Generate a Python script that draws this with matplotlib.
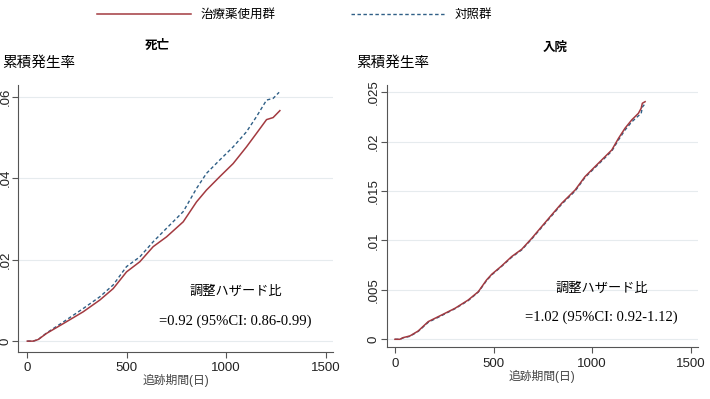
import numpy as np
import matplotlib
matplotlib.use('Agg')
import matplotlib.pyplot as plt
from matplotlib.lines import Line2D

plt.rcParams['font.family'] = ['Liberation Sans', 'Noto Sans CJK JP']

# Legend / text
LABEL_TRT = '治療薬使用群'
LABEL_CTL = '対照群'
TITLES = ['死亡', '入院']
YTITLE = '累積発生率'
XTITLE = '追跡期間(日)'
HR_HEAD = '調整ハザード比'
HR_TEXT = ['=0.92 (95%CI: 0.86-0.99)', '=1.02 (95%CI: 0.92-1.12)']

# Left panel: cumulative incidence vs follow-up days
days_a_trt = [0, 30, 55, 97, 181, 281, 365, 432, 499, 566, 633, 700, 784, 851, 901,
              968, 1035, 1102, 1152, 1203, 1236, 1270]
inc_a_trt = [0, 0, 0.0004, 0.0019, 0.0043, 0.0072, 0.0101, 0.0129, 0.0170, 0.0195,
             0.0232, 0.0256, 0.0293, 0.0342, 0.0371, 0.0404, 0.0436, 0.0477, 0.0510,
             0.0544, 0.0549, 0.0566]
days_a_ctl = [0, 30, 55, 97, 181, 281, 365, 432, 499, 566, 633, 700, 784, 851, 901,
              968, 1035, 1102, 1152, 1203, 1236, 1266]
inc_a_ctl = [0, 0, 0.0004, 0.0020, 0.0047, 0.0080, 0.0109, 0.0138, 0.0183, 0.0207,
             0.0244, 0.0277, 0.0318, 0.0375, 0.0412, 0.0445, 0.0477, 0.0514, 0.0551,
             0.0592, 0.0596, 0.0611]

# Right panel
days_b_trt = [0, 25, 42, 76, 118, 169, 237, 305, 372, 423, 465, 491, 541, 592, 643,
              694, 744, 795, 846, 914, 964, 1015, 1066, 1100, 1134, 1167, 1201, 1235,
              1249, 1255, 1269]
inc_b_trt = [0, 0, 0.00017, 0.00034, 0.00084, 0.00179, 0.00246, 0.00314, 0.00398,
             0.00482, 0.00601, 0.00658, 0.00742, 0.00837, 0.00911, 0.01022, 0.01140,
             0.01259, 0.01377, 0.01511, 0.01646, 0.01748, 0.01849, 0.01916, 0.02034,
             0.02136, 0.02220, 0.02287, 0.02338, 0.02389, 0.02405]
days_b_ctl = [0, 25, 42, 76, 118, 169, 237, 305, 372, 423, 465, 491, 541, 592, 643,
              694, 744, 795, 846, 914, 964, 1015, 1066, 1100, 1134, 1167, 1201, 1235,
              1249, 1255, 1269]
inc_b_ctl = [0, 0, 0.00015, 0.00030, 0.00080, 0.00172, 0.00240, 0.00310, 0.00392,
             0.00478, 0.00595, 0.00652, 0.00738, 0.00830, 0.00905, 0.01015, 0.01132,
             0.01250, 0.01368, 0.01500, 0.01638, 0.01738, 0.01838, 0.01905, 0.02018,
             0.02118, 0.02200, 0.02262, 0.02285, 0.02350, 0.02385]

xticks = [0, 500, 1000, 1500]
yticks_a = [0, 0.02, 0.04, 0.06]
ytlab_a = ['0', '.02', '.04', '.06']
yticks_b = [0, 0.005, 0.01, 0.015, 0.02, 0.025]
ytlab_b = ['0', '.005', '.01', '.015', '.02', '.025']

RED = '#a33a40'
BLUE = '#2f5f86'
AXC = '#555555'

fig = plt.figure(figsize=(7.1, 3.99), dpi=100)
ax1 = fig.add_axes([0.0258, 0.1185, 0.4432, 0.6685])
ax2 = fig.add_axes([0.5446, 0.1296, 0.4384, 0.6574])

panels = [
    (ax1, days_a_trt, inc_a_trt, days_a_ctl, inc_a_ctl, yticks_a, ytlab_a, (-0.0026, 0.0629), -45),
    (ax2, days_b_trt, inc_b_trt, days_b_ctl, inc_b_ctl, yticks_b, ytlab_b, (-0.00081, 0.02574), -42),
]

for k, (ax, xt, yt, xc, yc, yts, ytl, ylim, xl) in enumerate(panels):
    ax.plot(xc, yc, color=BLUE, lw=1.0, ls=(0, (2.5, 1.8)), zorder=3)
    ax.plot(xt, yt, color=RED, lw=1.1, zorder=4)
    ax.set_xlim(xl, 1537)
    ax.set_ylim(*ylim)
    ax.set_xticks(xticks)
    ax.set_xticklabels([str(v) for v in xticks], fontsize=9.5)
    ax.set_yticks(yts)
    ax.set_yticklabels(ytl, fontsize=9.5, rotation=90, va='center')
    for v in yts:
        ax.axhline(v, color='#e6ebee', lw=0.8, zorder=1)
    for s in ['top', 'right']:
        ax.spines[s].set_visible(False)
    for s in ['left', 'bottom']:
        ax.spines[s].set_color(AXC)
        ax.spines[s].set_linewidth(0.8)
    ax.tick_params(colors=AXC, labelcolor='#222222', length=4, width=0.8, direction='out')
    ax.tick_params(axis='y', pad=1)
    ax.set_xlabel(XTITLE, fontsize=8.5, color='#444444', labelpad=0)

    # annotation
    ax.text(0.69, 0.225, HR_HEAD, transform=ax.transAxes, ha='center', va='center',
            fontsize=9.5, family=['Noto Sans CJK JP'])
    ax.text(0.69, 0.115, HR_TEXT[k], transform=ax.transAxes, ha='center', va='center',
            fontsize=10.5, family=['Liberation Serif'])

fig.text(157 / 710, 1 - 46 / 399, TITLES[0], ha='center', va='center', fontsize=9, fontweight='bold')
fig.text(555 / 710, 1 - 48 / 399, TITLES[1], ha='center', va='center', fontsize=9, fontweight='bold')
fig.text(2 / 710, 1 - 63 / 399, YTITLE, ha='left', va='center', fontsize=10.5)
fig.text(356 / 710, 1 - 63 / 399, YTITLE, ha='left', va='center', fontsize=10.5)

handles = [Line2D([], [], color=RED, lw=1.1),
           Line2D([], [], color=BLUE, lw=1.0, ls=(0, (2.5, 1.8)))]
fig.legend(handles, [LABEL_TRT, LABEL_CTL], loc='center', ncol=2, frameon=False,
           bbox_to_anchor=(0.415, 1 - 15 / 399), handlelength=7.5, columnspacing=6,
           fontsize=9)

fig.savefig('out.png', dpi=100)
